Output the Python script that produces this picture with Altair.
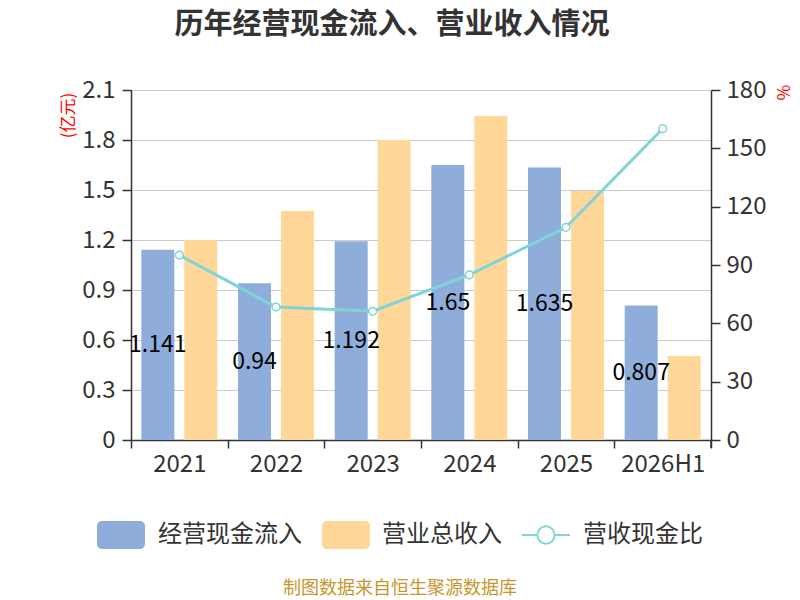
import altair as alt
import pandas as pd

years = ["2021", "2022", "2023", "2024", "2025", "2026H1"]
cash_in = [1.141, 0.94, 1.192, 1.65, 1.635, 0.807]
revenue = [1.2, 1.374, 1.8, 1.944, 1.494, 0.504]
ratio = [95.1, 68.4, 66.2, 84.9, 109.4, 160.1]

S_CASH = "经营现金流入"
S_REV = "营业总收入"
S_RATIO = "营收现金比"

BLUE = "#8EADDB"
ORANGE = "#FFD899"
CYAN = "#80D3D6"
FONT = "Noto Sans CJK SC"

W, H = 580, 350

bars_df = pd.DataFrame(
    [{"year": y, "series": S_CASH, "value": v} for y, v in zip(years, cash_in)]
    + [{"year": y, "series": S_REV, "value": v} for y, v in zip(years, revenue)]
)
lab_df = pd.DataFrame({"year": years, "series": S_CASH, "value": cash_in,
                       "label": [str(v) for v in cash_in]})
line_df = pd.DataFrame({"year": years, "ratio": ratio})

x_enc = alt.X("year:N", sort=years,
              scale=alt.Scale(paddingInner=0, paddingOuter=0),
              axis=alt.Axis(title=None, labelAngle=0, tickBand="extent",
                            labelFontSize=24, labelColor="#333", labelFont=FONT,
                            labelPadding=4, domainColor="#333", domainWidth=1.5,
                            tickColor="#333", tickSize=8, tickWidth=1.5))
xoff_enc = alt.XOffset("series:N", sort=[S_CASH, S_REV],
                       scale=alt.Scale(domain=[S_CASH, S_REV],
                                       paddingInner=0.2326, paddingOuter=0.2407))
y_scale = alt.Scale(domain=[0, 2.1], nice=False, zero=True)
y_axis = alt.Axis(title="(亿元)", values=[0, 0.3, 0.6, 0.9, 1.2, 1.5, 1.8, 2.1],
                  format="~g", labelFontSize=24, labelColor="#333",
                  labelFont=FONT, labelPadding=7,
                  domainColor="#333", domainWidth=1.5,
                  tickColor="#333", tickSize=9, tickWidth=1.5,
                  grid=True, gridColor="#CCCCCC", gridWidth=1.2,
                  titleColor="red", titleFontSize=17, titleFont=FONT,
                  titleFontWeight="normal", titleAngle=270,
                  titleX=-63, titleY=25, titleAlign="center",
                  titleBaseline="middle")

bars = alt.Chart(bars_df).mark_bar().encode(
    x=x_enc,
    xOffset=xoff_enc,
    y=alt.Y("value:Q", scale=y_scale, axis=y_axis),
    color=alt.Color("series:N", scale=alt.Scale(domain=[S_CASH, S_REV],
                                                range=[BLUE, ORANGE]), legend=None),
)

labels = alt.Chart(lab_df).transform_calculate(mid="datum.value / 2").mark_text(
    fontSize=23, color="#000", font=FONT, baseline="middle", align="center"
).encode(
    x=alt.X("year:N", sort=years),
    xOffset=xoff_enc,
    y=alt.Y("mid:Q", scale=y_scale, axis=y_axis),
    text="label:N",
)

bar_group = alt.layer(bars, labels)

line = alt.Chart(line_df).mark_line(
    color=CYAN, strokeWidth=3,
    point=alt.OverlayMarkDef(filled=True, fill="white", stroke=CYAN,
                             strokeWidth=1.5, size=60, opacity=1),
).encode(
    x=alt.X("year:N", sort=years),
    y=alt.Y("ratio:Q", scale=alt.Scale(domain=[0, 180], nice=False),
            axis=alt.Axis(orient="right", title="%", values=[0, 30, 60, 90, 120, 150, 180],
                          labelFontSize=24, labelColor="#333", labelFont=FONT,
                          labelPadding=6, domainColor="#333", domainWidth=1.5,
                          tickColor="#333", tickSize=9, tickWidth=1.5, grid=False,
                          titleColor="red", titleFontSize=17, titleFont=FONT,
                          titleFontWeight="normal", titleAngle=90,
                          titleX=70, titleY=2, titleAlign="center",
                          titleBaseline="middle")),
)

one = alt.Data(values=[{}])

def rect(x0, x1, color):
    return alt.Chart(one).mark_rect(color=color, cornerRadius=5).encode(
        x=alt.value(x0), x2=alt.value(x1), y=alt.value(431), y2=alt.value(459))

def txt(x, s, size=24, color="#333", y=445, align="left"):
    return alt.Chart(one).mark_text(
        text=s, fontSize=size, color=color, font=FONT, align=align, baseline="middle"
    ).encode(x=alt.value(x), y=alt.value(y))

leg_rule = alt.Chart(one).mark_rule(color=CYAN, strokeWidth=2).encode(
    x=alt.value(391), x2=alt.value(439), y=alt.value(445))
leg_pt = alt.Chart(one).mark_point(filled=True, fill="white", stroke=CYAN,
                                   strokeWidth=2, size=300, opacity=1).encode(
    x=alt.value(415), y=alt.value(445))
end_tick = alt.Chart(one).mark_rule(color="#333", strokeWidth=1.5).encode(
    x=alt.value(W), y=alt.value(H), y2=alt.value(H + 8))

chart = alt.layer(
    bar_group, line,
    rect(-34, 14, BLUE), txt(27, S_CASH),
    rect(191, 239, ORANGE), txt(251, S_REV),
    leg_rule, leg_pt, txt(452, S_RATIO),
    txt(269, "制图数据来自恒生聚源数据库", size=18, color="#C8962E", y=499, align="center"),
    end_tick,
).resolve_scale(y="independent").properties(
    width=W, height=H,
    autosize=alt.AutoSizeParams(type="none"),
    padding={"left": 123, "top": 82, "right": 81, "bottom": 160},
    title=alt.TitleParams(text="历年经营现金流入、营业收入情况", fontSize=29,
                          fontWeight="bold", color="#333", font=FONT,
                          anchor="middle", dx=-29, offset=38),
).configure_view(stroke=None).configure(font=FONT)

chart.save("out.html", embed_options={"renderer": "svg", "actions": False})
